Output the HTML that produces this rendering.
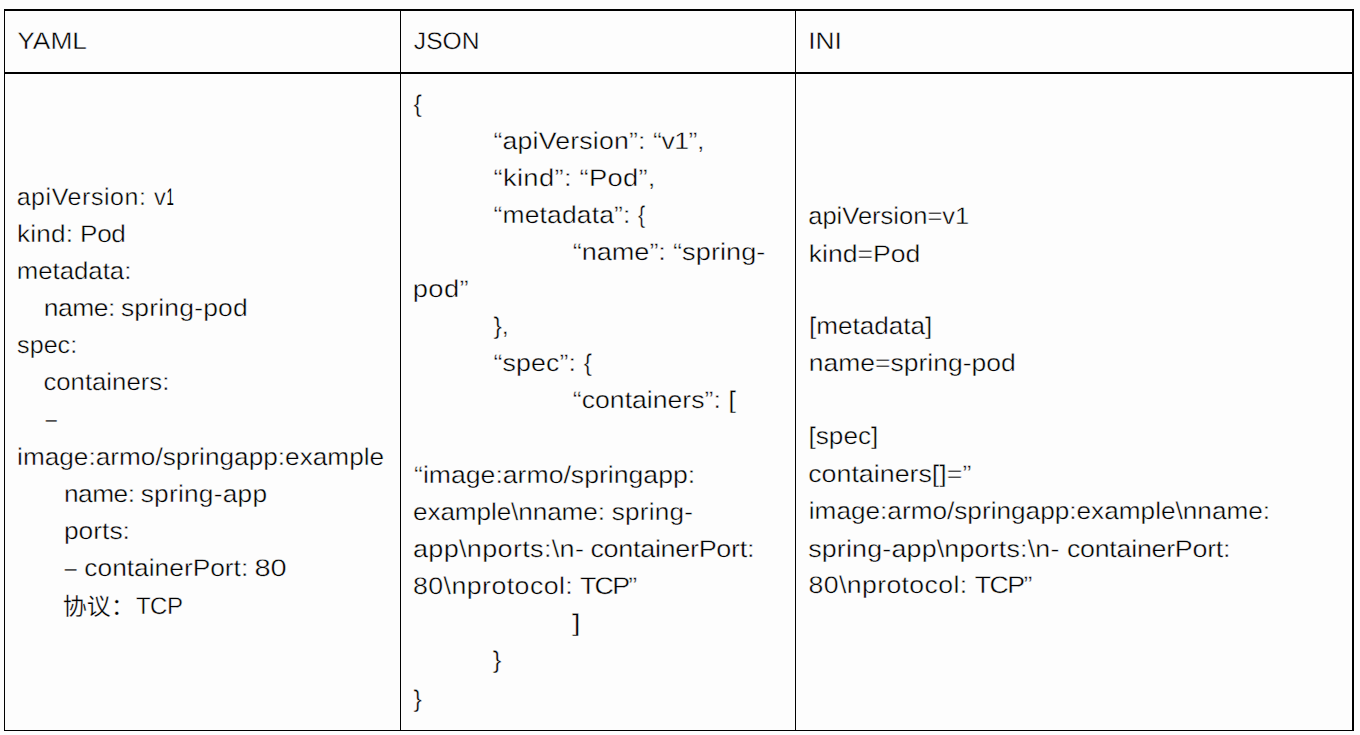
<!DOCTYPE html>
<html lang="zh">
<head>
<meta charset="utf-8">
<title>YAML / JSON / INI</title>
<style>
html,body{margin:0;padding:0;background:#fdfdfd;}
body{width:1360px;height:735px;overflow:hidden;position:relative;
  font-family:"Liberation Sans","Noto Sans CJK SC",sans-serif;font-size:24px;line-height:37px;color:#000;text-rendering:geometricPrecision;}
table{position:absolute;left:4px;top:9px;width:1350px;border-collapse:separate;border-spacing:0;table-layout:fixed;}
th,td{padding:0;margin:0;text-align:left;font-weight:normal;box-sizing:border-box;vertical-align:top;
  border-left:1px solid #000;}
th{height:65px;border-top:2px solid #000;border-bottom:2px solid #000;}
td{height:657px;border-bottom:1px solid #000;}
th.last,td.last{border-right:2px solid #000;}
.c{position:relative;display:block;width:100%;}
.l{position:absolute;left:0;top:var(--y);height:37px;white-space:pre;
  transform-origin:0 0;transform:translateX(var(--x)) scaleX(var(--k,1));-webkit-text-stroke:0.4px #fdfdfd;}
.s{display:inline-block;transform-origin:0 0;transform:scaleX(var(--s,1));}
.zh{position:relative;top:1px;-webkit-text-stroke-width:.3px;}
.d{-webkit-text-stroke-width:.25px;}
.n{-webkit-text-stroke-width:0;}
</style>
</head>
<body>
<table>
<colgroup><col style="width:396px"><col style="width:395px"><col style="width:559px"></colgroup>
<thead>
<tr>
<th><div class="c" style="height:61px"><span class="l" style="--x:12.2px;--y:12px;--k:1.098">YAML</span></div></th>
<th><div class="c" style="height:61px"><span class="l" style="--x:12.84px;--y:12px;--k:1.026">JSON</span></div></th>
<th class="last"><div class="c" style="height:61px"><span class="l" style="--x:12.23px;--y:12px;--k:1.097">INI</span></div></th>
</tr>
</thead>
<tbody>
<tr>
<td><div class="c" style="height:656px">
<span class="l" style="--x:11.66px;--y:105px;--k:1.04"><span style="letter-spacing:0.56px">apiVersion:</span> <span class="s" style="margin-left:-0.03px;--s:0.949;margin-right:-0.61px">v</span><span class="s n" style="margin-left:1.27px;--s:0.531;margin-right:-6.27px">1</span></span>
<span class="l" style="--x:11.96px;--y:142px;--k:1.09"><span style="letter-spacing:0.18px">kind:</span> <span style="letter-spacing:-0.36px;margin-left:-0.38px">Pod</span></span>
<span class="l" style="--x:11.69px;--y:179px;--k:1.074">metadata:</span>
<span class="l" style="--x:38.65px;--y:216px;--k:1.102"><span style="letter-spacing:-0.41px">name:</span> <span style="letter-spacing:0.18px;margin-left:-1.19px">spring-pod</span></span>
<span class="l" style="--x:12.12px;--y:253px;--k:1.046">spec:</span>
<span class="l" style="--x:38.43px;--y:290px;--k:1.072">containers:</span>
<span class="l" style="--x:40.8px;--y:327px;--k:0.822"><span class="d">–</span></span>
<span class="l" style="--x:12.06px;--y:365px;--k:1.092">image:armo/springapp:example</span>
<span class="l" style="--x:58.96px;--y:402px;--k:1.096"><span style="letter-spacing:-0.47px">name:</span> <span style="letter-spacing:0.22px;margin-left:-1.09px">spring-app</span></span>
<span class="l" style="--x:58.95px;--y:439px;--k:1.099">ports:</span>
<span class="l" style="--x:59.7px;--y:476px;--k:1.097"><span class="s d" style="--s:0.804;margin-right:-2.62px">–</span> <span style="margin-left:0.49px">containerPort:</span> <span class="s" style="margin-left:-0.91px;--s:1.101;margin-right:2.7px">80</span></span>
<span class="l" style="--x:57.8px;--y:514px"><span class="zh">协议：</span><span style="letter-spacing:-0.48px;margin-left:1.1px">TCP</span></span>
</div></td>
<td><div class="c" style="height:656px">
<span class="l" style="--x:12.54px;--y:12px;--k:1.04">{</span>
<span class="l" style="--x:92.47px;--y:49px;--k:1.112"><span style="letter-spacing:0.16px">“apiVersion”:</span> <span style="letter-spacing:-0.46px">“v1”,</span></span>
<span class="l" style="--x:92.44px;--y:86px;--k:1.14"><span style="letter-spacing:0.31px">“kind”:</span> <span style="letter-spacing:0.24px;margin-left:-0.06px">“Pod”,</span></span>
<span class="l" style="--x:92.47px;--y:123px;--k:1.103"><span style="letter-spacing:0.14px">“metadata”:</span> <span class="s" style="margin-left:0.2px;--s:0.813;margin-right:-1.5px">{</span></span>
<span class="l" style="--x:171.85px;--y:160px;--k:1.13"><span style="letter-spacing:-0.06px">“name”:</span> <span style="letter-spacing:0.05px;margin-left:-0.31px">“spring-</span></span>
<span class="l" style="--x:11.69px;--y:197px;--k:1.14"><span style="letter-spacing:0.36px">pod”</span></span>
<span class="l" style="--x:92.44px;--y:234px;--k:1.045">},</span>
<span class="l" style="--x:92.46px;--y:271px;--k:1.114"><span style="letter-spacing:0.1px">“spec”:</span> <span class="s" style="margin-left:-0.06px;--s:0.916;margin-right:-0.67px">{</span></span>
<span class="l" style="--x:171.87px;--y:308px;--k:1.109">“containers”: <span class="s" style="--s:1.044;margin-right:0.29px">[</span></span>
<span class="l" style="--x:13.07px;--y:383px;--k:1.109">“image:armo/springapp:</span>
<span class="l" style="--x:12.01px;--y:420px;--k:1.089"><span style="letter-spacing:-0.09px">example\nname:</span> <span style="letter-spacing:0.21px;margin-left:-0.41px">spring-</span></span>
<span class="l" style="--x:11.97px;--y:457px;--k:1.126"><span style="letter-spacing:0.29px">app\nports:\n-</span> <span style="letter-spacing:-0.29px;margin-left:-1.23px">containerPort:</span></span>
<span class="l" style="--x:11.99px;--y:494px;--k:1.114"><span style="letter-spacing:0.39px">80\nprotocol:</span> <span style="letter-spacing:-1.55px;margin-left:-0.61px">TCP”</span></span>
<span class="l" style="--x:171.05px;--y:531px;--k:1.3">]</span>
<span class="l" style="--x:91.83px;--y:568px;--k:1.08">}</span>
<span class="l" style="--x:12.54px;--y:607px;--k:1.04">}</span>
</div></td>
<td class="last"><div class="c" style="height:656px">
<span class="l" style="--x:12.24px;--y:124px;--k:1.063">apiVersion=v1</span>
<span class="l" style="--x:12.74px;--y:162px;--k:1.107">kind=Pod</span>
<span class="l" style="--x:12.9px;--y:234px;--k:1.088">[metadata]</span>
<span class="l" style="--x:12.74px;--y:271px;--k:1.104">name=spring-pod</span>
<span class="l" style="--x:12.49px;--y:344px;--k:1.09">[spec]</span>
<span class="l" style="--x:12.18px;--y:382px;--k:1.117">containers[]=”</span>
<span class="l" style="--x:12.76px;--y:419px;--k:1.091">image:armo/springapp:example\nname:</span>
<span class="l" style="--x:12.16px;--y:457px;--k:1.118"><span style="letter-spacing:0.16px">spring-app\nports:\n-</span> <span style="letter-spacing:-0.24px;margin-left:-0.07px">containerPort:</span></span>
<span class="l" style="--x:12.59px;--y:493px;--k:1.11"><span style="letter-spacing:0.34px">80\nprotocol:</span> <span style="letter-spacing:-1.37px;margin-left:-0.17px">TCP”</span></span>
</div></td>
</tr>
</tbody>
</table>
</body>
</html>
